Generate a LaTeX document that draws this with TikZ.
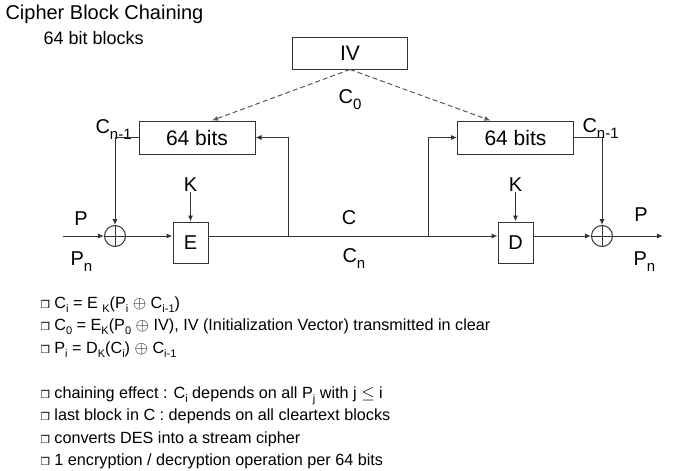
\documentclass[tikz,border=0pt]{standalone}
\usepackage{fontspec}
\setmainfont{Liberation Sans}
\newfontfamily\symfont{DejaVu Sans}
\usetikzlibrary{arrows.meta,positioning,calc}
\newcommand{\lo}[1]{\raisebox{-0.3em}{\fontsize{15}{15}\selectfont #1}}
\newcommand{\ls}[1]{\raisebox{-0.25em}{\fontsize{11}{11}\selectfont #1}}
\newcommand{\bx}{{\symfont\fontsize{10.5}{10}\selectfont ❒}}

\begin{document}
\begin{tikzpicture}[x=1pt, y=-1pt, line width=1pt, black!80,
  lbl/.style={font=\fontsize{20}{24}\selectfont, inner sep=0pt, text=black},
  blk/.style={draw, minimum width=116pt, minimum height=33pt, inner sep=0pt,
              font=\fontsize{21}{24}\selectfont, text=black},
  fn/.style={draw, minimum width=35pt, minimum height=41pt, inner sep=0pt,
             font=\fontsize{20}{24}\selectfont, text=black},
  xor/.style={circle, draw, minimum size=21pt, inner sep=0pt,
              path picture={\draw (path picture bounding box.north) -- (path picture bounding box.south)
                                  (path picture bounding box.west) -- (path picture bounding box.east);}},
  arr/.style={-{Latex[length=6pt,width=5pt]}},
  dsh/.style={arr, dash pattern=on 5pt off 3pt, black!65}]
\useasboundingbox (0,0) rectangle (678,471);

% heading
\node[lbl, anchor=west] (title) at (5,14) {Cipher Block Chaining};
\node[lbl, anchor=west, font=\fontsize{18}{22}\selectfont] (sub) at (43,38) {64 bit blocks};

% blocks
\node[blk, minimum width=115pt, minimum height=32pt] (iv) at (350,53) {IV};
\node[blk] (regE) at (197,137.5) {64 bits};
\node[blk] (regD) at (515.5,137.5) {64 bits};
\node[xor] (xE) at (115,236) {};
\node[xor] (xD) at (602,236) {};
\node[fn] (enc) at (190.5,242.5) {E};
\node[fn] (dec) at (515.5,242.5) {D};
\node[lbl, above=30pt of enc.north] (kE) {K};
\node[lbl, above=30pt of dec.north] (kD) {K};
\coordinate (in) at (63,236);
\coordinate (out) at (663,236);
\coordinate (tapE) at (288,236);
\coordinate (tapD) at (428,236);

% labels
\node[lbl] (c0) at (350,100) {C\lo{0}};
\node[lbl] (cmid) at (349,218) {C};
\node[lbl, anchor=west] (cn) at (342,259) {C\lo{n}};
\node[lbl] (pin) at (81,219) {P};
\node[lbl, anchor=west] (pnin) at (70,262) {P\lo{n}};
\node[lbl] (pout) at (641,215) {P};
\node[lbl, anchor=west] (pnout) at (633,262) {P\lo{n}};
\node[lbl, anchor=west] (cpE) at (95,130) {C\lo{n-1}};
\node[lbl, anchor=west] (cpD) at (582,129) {C\lo{n-1}};

% connections
\draw[dsh] (iv.south) -- ($(regE.north)+(15,0)$);
\draw[dsh] (iv.south) -- ($(regD.north)+(-25,0)$);
\draw[arr] (in) -- (xE);
\draw[arr] (xE) -- (xE -| enc.west);
\draw[arr] (xE -| enc.east) -- (xD -| dec.west);
\draw[arr] (tapE) |- (regE.east);
\draw[arr] (tapD) |- (regD.west);
\draw[arr] (regE.west) -| (xE.north);
\draw[arr] (regD.east) -| (xD.north);
\draw[arr] (kE) -- (enc);
\draw[arr] (kD) -- (dec);
\draw[arr] (xD -| dec.east) -- (xD);
\draw[arr] (xD) -- (out);

% notes
\node[anchor=north west, align=left, inner sep=0pt, text=black,
      font=\fontsize{16.2}{22.5}\selectfont] (notes) at (40,296) {%
\bx\ C\ls{i} = E \ls{K}(P\ls{i} $\oplus$ C\ls{i-1})\\
\bx\ C\ls{0} = E\ls{K}(P\ls{0} $\oplus$ IV), IV (Initialization Vector) transmitted in clear\\
\bx\ P\ls{i} = D\ls{K}(C\ls{i}) $\oplus$ C\ls{i-1}\\[22.5pt]
\bx\ chaining effect : C\ls{i} depends on all P\ls{j} with j $\leq$ i\\
\bx\ last block in C : depends on all cleartext blocks\\
\bx\ converts DES into a stream cipher\\
\bx\ 1 encryption / decryption operation per 64 bits};
\end{tikzpicture}
\end{document}
